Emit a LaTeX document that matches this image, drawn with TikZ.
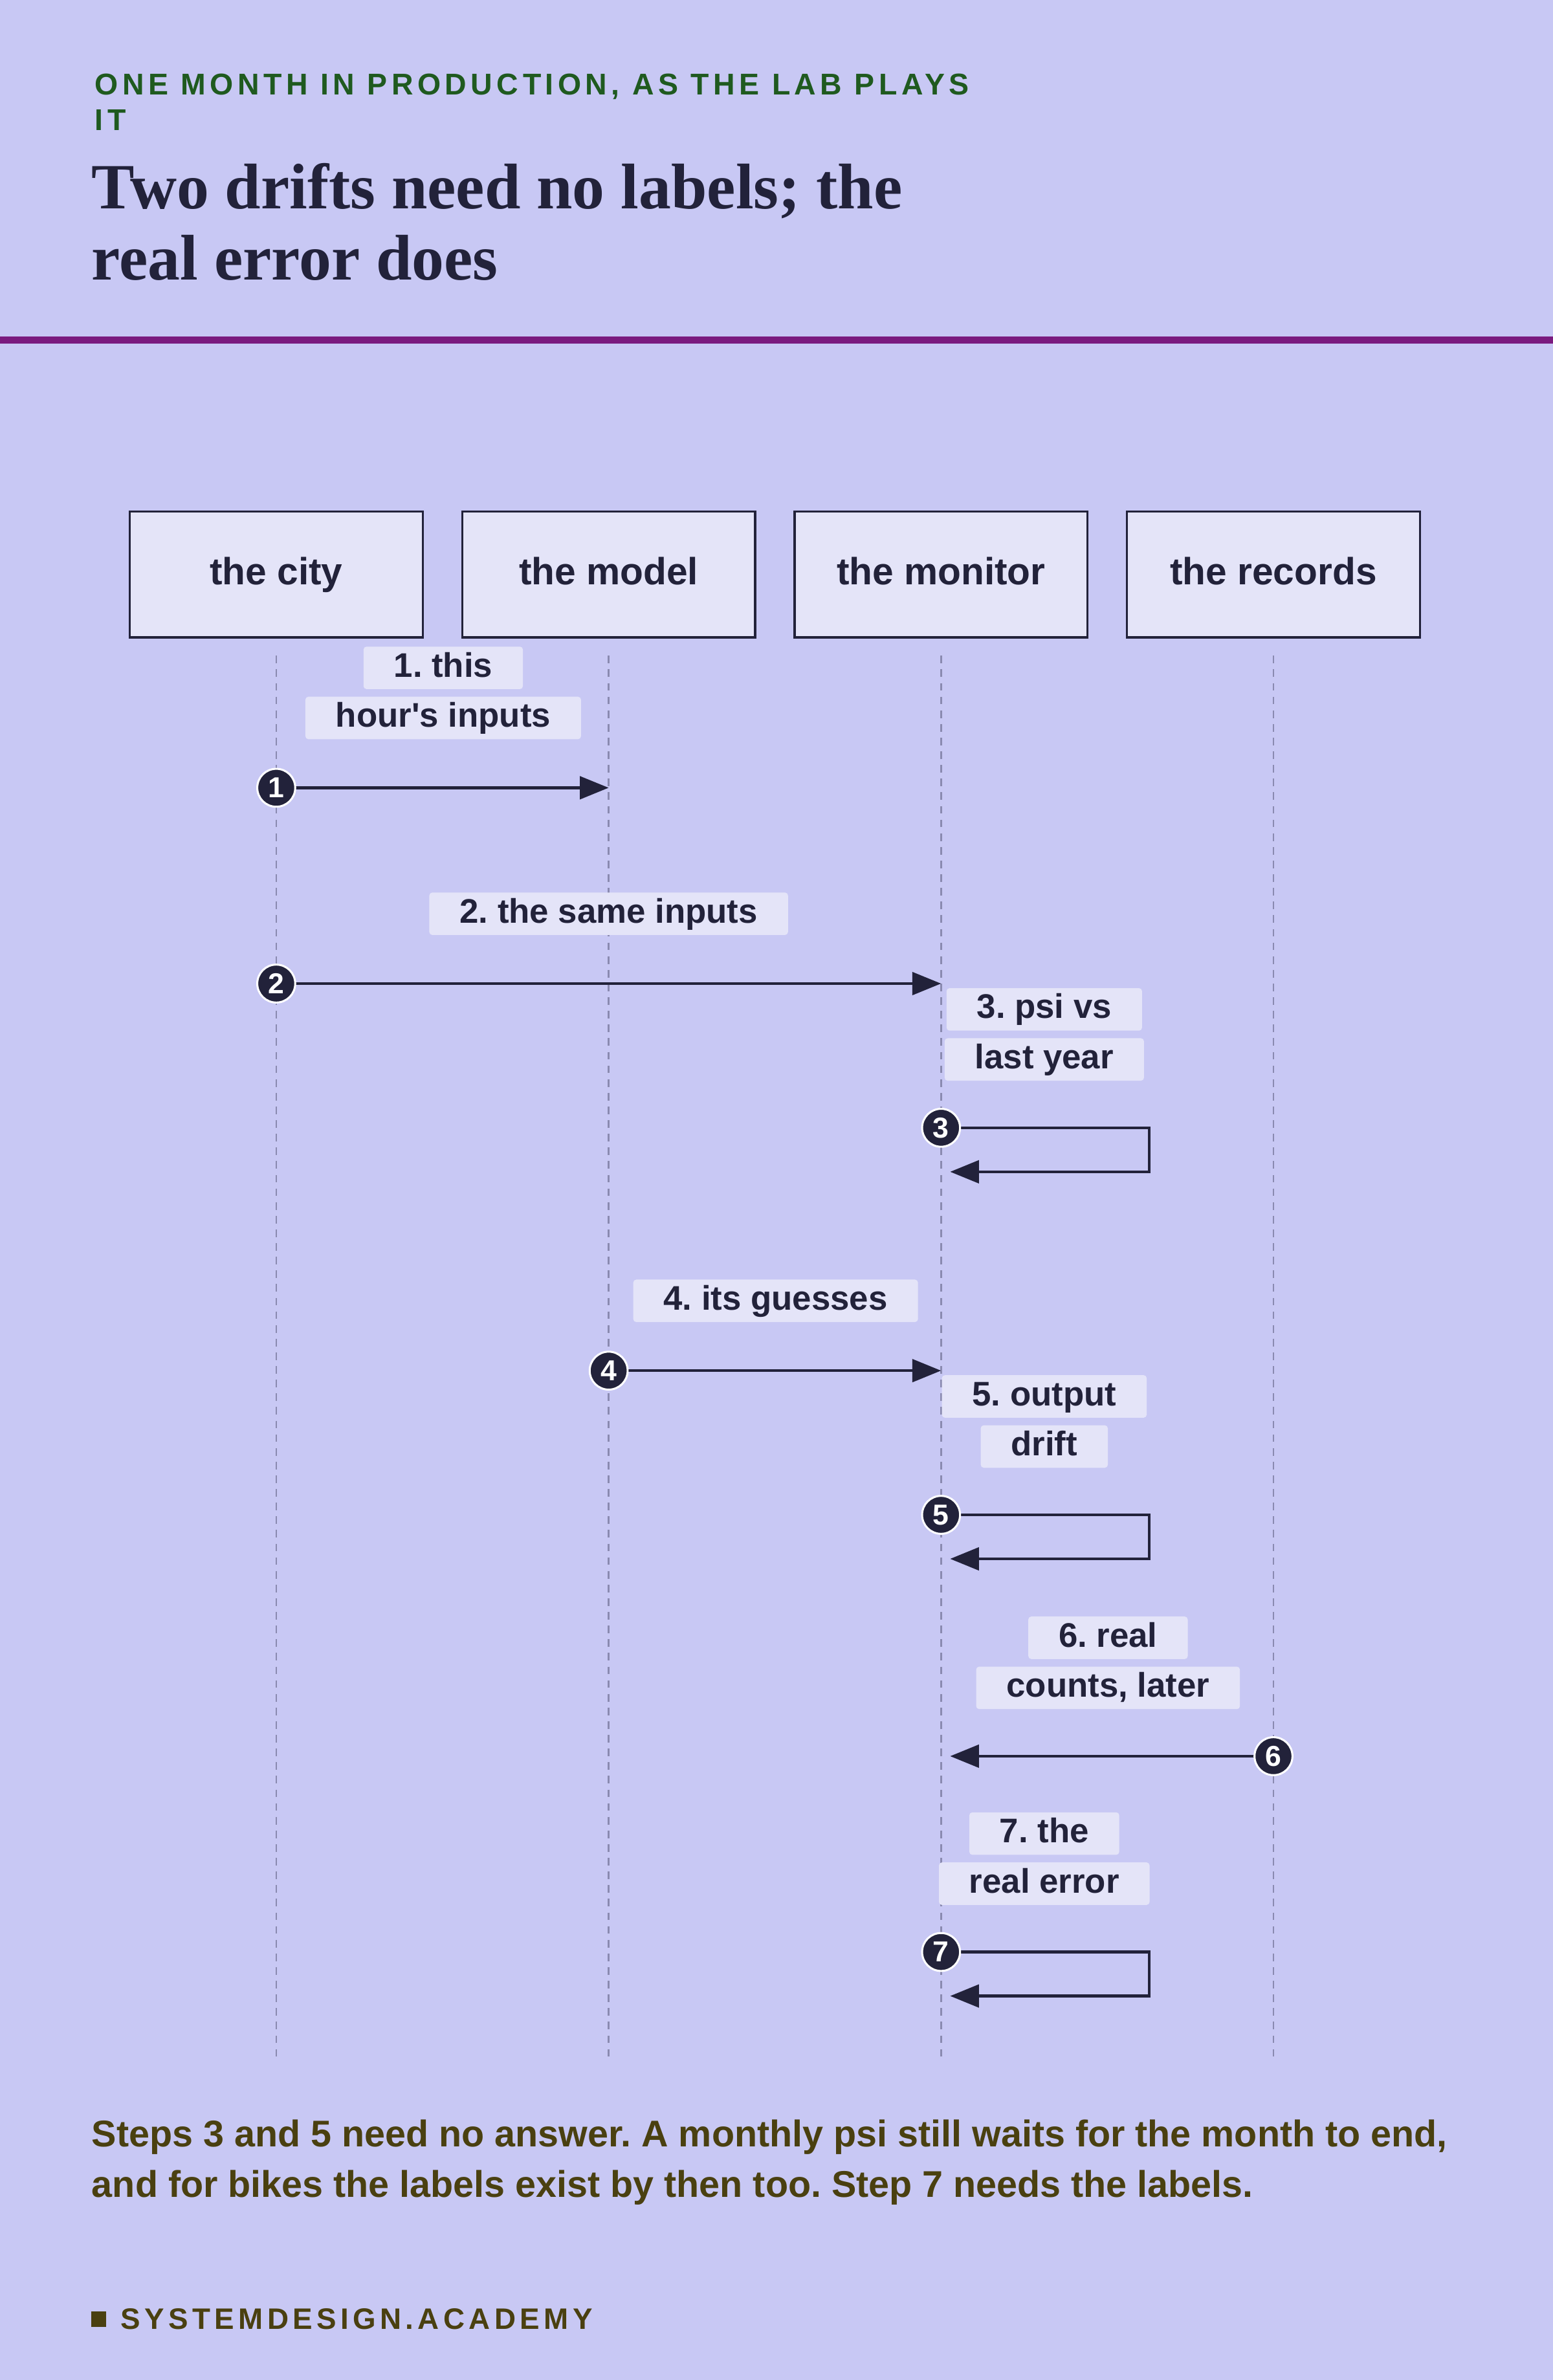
\documentclass[tikz,border=0pt]{standalone}
\usepackage{fontspec}
\setmainfont{Liberation Sans}
\newfontfamily\ttl{Liberation Serif}
\newfontfamily\nolig{Liberation Sans}[Ligatures=Common]
\newfontfamily\spc{Liberation Sans}[LetterSpace=14]
\usetikzlibrary{arrows.meta}
\definecolor{bg}{HTML}{C8C8F4}
\definecolor{boxf}{HTML}{E4E4F8}
\definecolor{ink}{HTML}{22223A}
\definecolor{grn}{HTML}{1F5A1F}
\definecolor{plum}{HTML}{7A1A7F}
\definecolor{olive}{HTML}{4A4010}
\definecolor{life}{HTML}{8A8AB0}
\frenchspacing
\begin{document}
\begin{tikzpicture}[x=1pt,y=1pt,
  actor/.style={draw=ink,line width=1.5pt,fill=boxf,minimum width=193pt,minimum height=83pt,text height=18pt,text depth=5pt,font=\fontsize{25}{28}\selectfont\bfseries,text=ink},
  lbl/.style={fill=boxf,rounded corners=2pt,inner xsep=20pt,inner ysep=4pt,text height=16pt,text depth=4pt,font=\fontsize{22.5}{24}\selectfont\bfseries,text=ink},
  num/.style={circle,fill=ink,draw=white,line width=1.3pt,inner sep=0pt,minimum size=25pt,font=\fontsize{19}{20}\selectfont\bfseries,text=white},
  msg/.style={draw=ink,line width=1.8pt,-{Triangle[length=19pt,width=15pt]}},
  ll/.style={draw=life,line width=1pt,dash pattern=on 5pt off 4pt}]
\useasboundingbox (0,0) rectangle (1023,-1568);
\fill[bg] (0,0) rectangle (1023,-1568);
\node[anchor=west,text=grn,font=\spc\fontsize{19.8}{20}\selectfont\bfseries] at (59,-57) {ONE MONTH IN PRODUCTION, AS THE LAB PLAYS};
\node[anchor=west,text=grn,font=\spc\fontsize{19.8}{20}\selectfont\bfseries] at (59,-79) {IT};
\node[anchor=west,text=ink,font=\ttl\fontsize{42.5}{44}\selectfont\bfseries] at (57,-126) {Two drifts need no labels; the};
\node[anchor=west,text=ink,font=\ttl\fontsize{42.5}{44}\selectfont\bfseries] at (57,-170) {real error does};
\fill[plum] (0,-221.5) rectangle (1023,-226.5);
\node[actor] (city) at (182,-378.5) {the city};
\node[actor] (model) at (401,-378.5) {the model};
\node[actor] (mon) at (620,-378.5) {the monitor};
\node[actor] (rec) at (839,-378.5) {the records};
\foreach \n/\x in {city/182,model/401,mon/620,rec/839}{
  \coordinate (\n e) at (\x,-1355);
  \draw[ll] (\x,-432) -- (\n e);}
% 1
\node[lbl] (l1a) at (292,-440) {1. this};
\node[lbl] (l1b) at (292,-473) {hour{\nolig '}s inputs};
\coordinate (m1s) at (182,-519); \coordinate (m1e) at (401,-519);
\draw[msg] (m1s) -- (m1e);
\node[num] (n1) at (m1s) {1};
% 2
\node[lbl] (l2) at (401,-602) {2. the same inputs};
\coordinate (m2s) at (182,-648); \coordinate (m2e) at (620,-648);
\draw[msg] (m2s) -- (m2e);
\node[num] (n2) at (m2s) {2};
% 3
\node[lbl] (l3a) at (688,-665) {3. psi vs};
\node[lbl] (l3b) at (688,-698) {last year};
\coordinate (m3s) at (620,-743); \coordinate (m3e) at (626,-772);
\draw[msg] (m3s) -- (757,-743) -- (757,-772) -- (m3e);
\node[num] (n3) at (m3s) {3};
% 4
\node[lbl] (l4) at (511,-857) {4. its guesses};
\coordinate (m4s) at (401,-903); \coordinate (m4e) at (620,-903);
\draw[msg] (m4s) -- (m4e);
\node[num] (n4) at (m4s) {4};
% 5
\node[lbl] (l5a) at (688,-920) {5. output};
\node[lbl] (l5b) at (688,-953) {drift};
\coordinate (m5s) at (620,-998); \coordinate (m5e) at (626,-1027);
\draw[msg] (m5s) -- (757,-998) -- (757,-1027) -- (m5e);
\node[num] (n5) at (m5s) {5};
% 6
\node[lbl] (l6a) at (730,-1079) {6. real};
\node[lbl] (l6b) at (730,-1112) {counts, later};
\coordinate (m6s) at (839,-1157); \coordinate (m6e) at (626,-1157);
\draw[msg] (m6s) -- (m6e);
\node[num] (n6) at (m6s) {6};
% 7
\node[lbl] (l7a) at (688,-1208) {7. the};
\node[lbl] (l7b) at (688,-1241) {real error};
\coordinate (m7s) at (620,-1286); \coordinate (m7e) at (626,-1315);
\draw[msg] (m7s) -- (757,-1286) -- (757,-1315) -- (m7e);
\node[num] (n7) at (m7s) {7};
% footer
\node[anchor=west,text=olive,font=\fontsize{24.5}{26}\selectfont\bfseries] at (57,-1408) {Steps 3 and 5 need no answer. A monthly psi still waits for the month to end,};
\node[anchor=west,text=olive,font=\fontsize{24.5}{26}\selectfont\bfseries] at (57,-1441) {and for bikes the labels exist by then too. Step 7 needs the labels.};
\fill[olive] (60,-1523) rectangle (70,-1533);
\node[anchor=west,text=olive,font=\spc\fontsize{19.5}{20}\selectfont\bfseries] at (76,-1528) {SYSTEMDESIGN.ACADEMY};
\end{tikzpicture}
\end{document}
